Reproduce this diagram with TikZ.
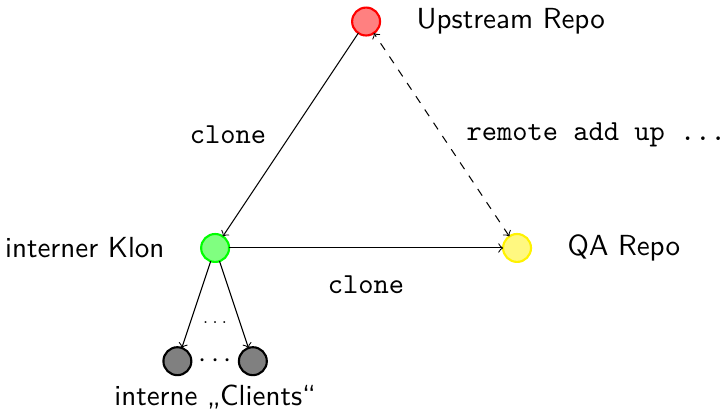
\documentclass[tikz,border=0pt,11pt]{standalone}
\usepackage{fontspec}
\usepackage{tikz}
\usetikzlibrary{arrows,shapes,calc,positioning}
\tikzstyle{repo}=[circle, draw, thick, minimum size=0.37cm,
                  inner sep=0pt, outer sep=0pt]
\tikzstyle{edge}=[->, thin]
\tikzstyle{lbl}=[font=\sffamily]
\tikzstyle{cmd}=[font=\ttfamily]

\begin{document}
\begin{tikzpicture}
    \useasboundingbox (-2.85,-2.185) rectangle (6.755,3.285);

    % repositories
    \draw (2,3) node(up)[repo,draw=red,fill=red!50]{};
    \draw (0,0) node(klon)[repo,draw=green,fill=green!50]{};
    \draw (4,0) node(qa)[repo,draw=yellow,fill=yellow!50]{};
    \foreach \i/\x in {1/-0.5,2/0.5}
        \draw (\x,-1.5) node(c\i)[repo,fill=gray]{};

    % names
    \node (upname)[lbl,right=0.35cm of up]{Upstream Repo};
    \node (klonname)[lbl,left=0.35cm of klon]{interner Klon};
    \node (qaname)[lbl,right=0.35cm of qa]{QA Repo};
    \node (cname)[lbl] at (0,-1.97) {interne „Clients“};

    % connections
    \draw [edge] (up) to node(e1)[cmd,pos=0.5,xshift=-0.83cm]{clone} (klon);
    \draw [edge] (klon) to node(e2)[cmd,pos=0.5,yshift=-0.49cm]{clone} (qa);
    \draw [<->,dashed] (qa) to node(e3)[cmd,pos=0.5,xshift=2.05cm]{remote add up ...} (up);
    \foreach \i in {1,2}
        \draw [edge] (klon) to (c\i);
    \node (d1)[font=\tiny] at (0,-0.99) {$\dots$};
    \node (d2) at ($(c1)!0.5!(c2)$) {$\cdots$};
\end{tikzpicture}
\end{document}
